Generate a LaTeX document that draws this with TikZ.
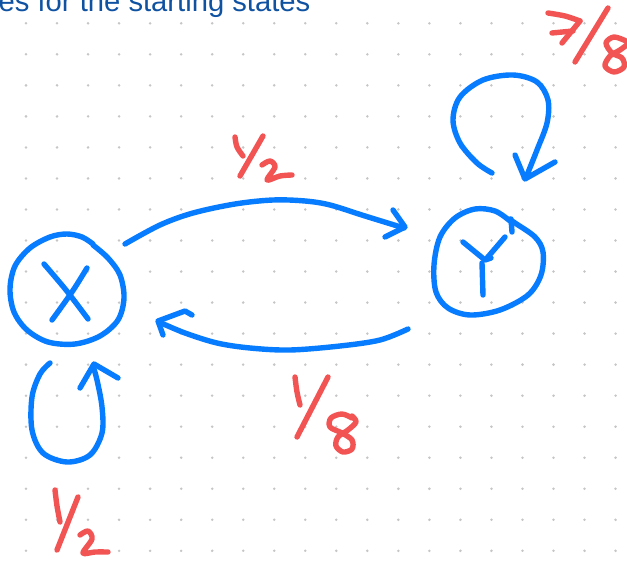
\documentclass[tikz,border=0pt]{standalone}
\usepackage{fontspec}
\setmainfont{Liberation Sans}
\begin{document}
\begin{tikzpicture}[x=1pt,y=-1pt,
  pen/.style={line width=5.4pt,line cap=round,line join=round},
  bl/.style={pen,draw=inkblue},
  rd/.style={pen,draw=inkred},
  sm/.style={smooth,tension=0.55}]
\definecolor{inkblue}{RGB}{8,124,255}
\definecolor{inkred}{RGB}{242,84,84}
\definecolor{dotc}{RGB}{198,198,198}
\definecolor{titleblue}{RGB}{16,82,162}
\useasboundingbox (0,0) rectangle (627,561);
\clip (0,0) rectangle (627,561);
% dot grid
\foreach \i in {0,...,19} {\foreach \j in {0,...,17} {\fill[dotc] (26+31.03*\i,23.3+31.03*\j) circle (1.4);}}
% title
\node[anchor=base west,inner sep=0pt,text=titleblue,font=\fontsize{29.2}{30}\selectfont] (title) at (-1.5,11.5) {es for the starting states};
% X circle
\draw[bl] plot[sm] coordinates {(93,244) (82,237) (67,234) (50,237) (30,248) (15,266) (10,289) (14,312) (27,330) (48,342) (75,344) (100,336) (118,320) (124,298) (120,275) (108,258) (93,245)};
\draw[bl] plot[sm] coordinates {(44,264) (66,290) (88,319)};
\draw[bl] plot[sm] coordinates {(87,268) (72,292) (52,320)};
% Y circle
\draw[bl] plot[sm] coordinates {(510,221) (495,211) (475,209) (455,218) (440,237) (434,265) (436,292) (448,308) (470,315) (500,310) (528,295) (541,275) (543,252) (535,237) (515,223) (509,219)};
\draw[bl] (511,219) -- (512,232);
\draw[bl] (463,242) -- (485,260) -- (491,258);
\draw[bl] (505,237) -- (487,258);
\draw[bl] (482,263) -- (483,295);
% X -> Y
\draw[bl] plot[sm] coordinates {(125,244) (160,225) (193,213) (235,204) (273,200) (305,201) (330,205) (365,216) (404,228)};
\draw[bl] (393,210) -- (405,227) -- (385,237);
% Y -> X
\draw[bl] plot[sm] coordinates {(408,329) (380,340) (340,346) (290,350) (250,348) (217,343) (185,333) (159,322)};
\draw[bl] (192,315) -- (185,311) -- (158,321) -- (163,335);
% X self loop
\draw[bl] plot[sm] coordinates {(50,363) (40,374) (32,397) (32,430) (43,453) (67,462) (90,455) (102,433) (102,407) (97,380) (93,366)};
\draw[bl] (80,388) -- (94,364) -- (118,378);
% Y self loop
\draw[bl] plot[sm] coordinates {(492,173) (477,163) (460,143) (453,120) (460,97) (483,80) (513,75) (537,82) (548,100) (547,123) (537,150) (527,175)};
\draw[bl] (515,155) -- (525,179) -- (555,162);
% label 1/2 top
\draw[rd] plot[sm] coordinates {(235,137) (237,147) (243,156)};
\draw[rd] (263,136) -- (240,176);
\draw[rd] plot[sm] coordinates {(262,165) (270,161) (275,167) (267,180) (280,176) (292,175)};
% label 1/8
\draw[rd] plot[sm] coordinates {(295,377) (297,392) (300,405)};
\draw[rd] (328,377) -- (297,437);
\draw[rd] plot[sm] coordinates {(352,418) (342,414) (331,418) (330,427) (342,433) (352,440) (352,449) (343,452) (336,446) (338,437) (348,430) (356,422) (352,416)};
% label 1/2 bottom
\draw[rd] plot[sm] coordinates {(55,490) (57,506) (60,522)};
\draw[rd] (78,497) -- (57,550);
\draw[rd] plot[sm] coordinates {(80,535) (88,531) (92,539) (83,553) (95,552) (108,552)};
% label 7/8
\draw[rd] plot[sm] coordinates {(548,13) (565,16) (580,21)};
\draw[rd] (580,21) -- (562,43);
\draw[rd] (552,33) -- (573,31);
\draw[rd] (608,8) -- (575,62);
\draw[rd] plot[sm] coordinates {(626,41) (614,37) (606,43) (612,53) (622,58) (624,67) (614,72) (605,66) (610,56) (620,50) (628,44)};
\end{tikzpicture}
\end{document}
